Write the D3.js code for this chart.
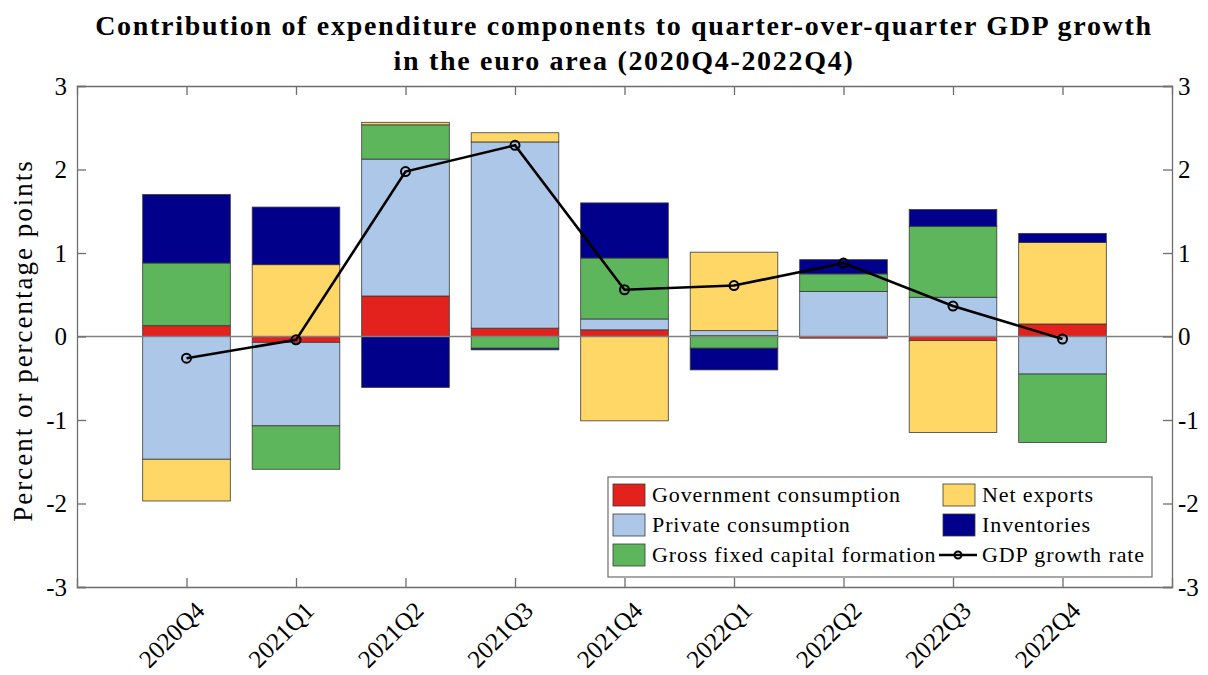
<!DOCTYPE html>
<html>
<head>
<meta charset="utf-8">
<script src="https://cdn.jsdelivr.net/npm/d3@7"></script>
<style>
  body { margin: 0; background: #fff; }
  svg text { font-family: "Liberation Serif", "Times New Roman", serif; fill: #000; }
</style>
</head>
<body>
<div id="chart"></div>
<script>
// quarters on the x axis
const quarters = ["2020Q4", "2021Q1", "2021Q2", "2021Q3", "2021Q4", "2022Q1", "2022Q2", "2022Q3", "2022Q4"];

// contributions in percentage points
const government = [0.13, -0.07, 0.485, 0.10, 0.08, 0.01, -0.02, -0.05, 0.15];
const privateCons = [-1.47, -1.00, 1.64, 2.23, 0.13, 0.06, 0.54, 0.47, -0.45];
const gfcf = [0.75, -0.52, 0.41, -0.14, 0.73, -0.14, 0.21, 0.85, -0.82];
const netExports = [-0.50, 0.86, 0.03, 0.11, -1.01, 0.94, 0.0, -1.10, 0.975];
const inventories = [0.82, 0.69, -0.61, -0.02, 0.66, -0.26, 0.17, 0.20, 0.11];
const gdpGrowth = [-0.26, -0.04, 1.975, 2.29, 0.56, 0.61, 0.88, 0.365, -0.03];

const yTicks = [-3, -2, -1, 0, 1, 2, 3];

const series = [
    { name: "Government consumption", values: government, color: "#e3221e" },
    { name: "Private consumption", values: privateCons, color: "#adc7e8" },
    { name: "Gross fixed capital formation", values: gfcf, color: "#5db65c" },
    { name: "Net exports", values: netExports, color: "#fed766" },
    { name: "Inventories", values: inventories, color: "#00008a" }
];

const W = 1208, H = 675;
const margin = { top: 86, right: 36, bottom: 88, left: 77 };
const width = W - margin.left - margin.right;
const height = H - margin.top - margin.bottom;

const svg = d3.select("#chart").append("svg")
    .attr("width", W)
    .attr("height", H);

// title
const title = svg.append("text")
    .attr("x", 624)
    .attr("text-anchor", "middle")
    .style("font-size", "28px")
    .style("letter-spacing", "1.7px")
    .style("font-weight", "bold");
title.append("tspan").attr("x", 624).attr("y", 35)
    .text("Contribution of expenditure components to quarter-over-quarter GDP growth");
title.append("tspan").attr("x", 624).attr("y", 70)
    .text("in the euro area (2020Q4-2022Q4)");

const g = svg.append("g")
    .attr("transform", `translate(${margin.left},${margin.top})`);

const x = d3.scaleLinear().domain([0, quarters.length + 1]).range([0, width]);
const y = d3.scaleLinear().domain([-3, 3]).range([height, 0]);
const barW = x(0.8) - x(0);

// stack positives and negatives separately, like MATLAB bar(...,'stacked')
const segments = [];
quarters.forEach((q, i) => {
    let pos = 0, neg = 0;
    series.forEach(s => {
        const v = s.values[i];
        if (v >= 0) {
            segments.push({ i, y0: pos, y1: pos + v, color: s.color });
            pos += v;
        } else {
            segments.push({ i, y0: neg + v, y1: neg, color: s.color });
            neg += v;
        }
    });
});

g.selectAll(".bar")
    .data(segments.filter(d => d.y1 - d.y0 > 0))
    .enter().append("rect")
    .attr("class", "bar")
    .attr("x", d => x(d.i + 1) - barW / 2)
    .attr("width", barW)
    .attr("y", d => y(d.y1))
    .attr("height", d => y(d.y0) - y(d.y1))
    .attr("fill", d => d.color)
    .attr("stroke", "#3a3a3a")
    .attr("stroke-width", 0.8);

// zero line
g.append("line")
    .attr("x1", 0).attr("x2", width)
    .attr("y1", y(0)).attr("y2", y(0))
    .attr("stroke", "#808080")
    .attr("stroke-width", 1.3);

// GDP growth line
const line = d3.line()
    .x((d, i) => x(i + 1))
    .y(d => y(d));

g.append("path")
    .datum(gdpGrowth)
    .attr("d", line)
    .attr("fill", "none")
    .attr("stroke", "#000")
    .attr("stroke-width", 2.6);

g.selectAll(".dot")
    .data(gdpGrowth)
    .enter().append("circle")
    .attr("class", "dot")
    .attr("cx", (d, i) => x(i + 1))
    .attr("cy", d => y(d))
    .attr("r", 4.5)
    .attr("fill", "none")
    .attr("stroke", "#000")
    .attr("stroke-width", 2);

// axes with inward ticks on all four sides
const axisColor = "#6e6e6e";
const tickVals = quarters.map((q, i) => i + 1);
const numFmt = d => String(d);

const leftAxis = g.append("g")
    .call(d3.axisLeft(y).tickValues(yTicks).tickSize(-9).tickPadding(10).tickFormat(numFmt));
const rightAxis = g.append("g")
    .attr("transform", `translate(${width},0)`)
    .call(d3.axisRight(y).tickValues(yTicks).tickSize(-9).tickPadding(6).tickFormat(numFmt));
const bottomAxis = g.append("g")
    .attr("transform", `translate(0,${height})`)
    .call(d3.axisBottom(x).tickValues(tickVals).tickSize(-9).tickFormat((d) => quarters[d - 1]));
const topAxis = g.append("g")
    .call(d3.axisTop(x).tickValues(tickVals).tickSize(-9).tickFormat(""));

[leftAxis, rightAxis, bottomAxis, topAxis].forEach(a => {
    a.select(".domain").attr("stroke", axisColor).attr("stroke-width", 1.3);
    a.selectAll(".tick line").attr("stroke", axisColor).attr("stroke-width", 1.3);
    a.selectAll("text").style("font-family", "'Liberation Serif', serif").style("font-size", "25px").attr("fill", "#000");
});

bottomAxis.selectAll("text")
    .attr("transform", "translate(13,19) rotate(-45)")
    .attr("text-anchor", "end")
    .attr("dy", "0.35em")
    .attr("y", 0)
    .style("font-size", "25px");

// y label
svg.append("text")
    .attr("transform", `translate(32,${margin.top + y(0) + 4}) rotate(-90)`)
    .attr("text-anchor", "middle")
    .style("font-size", "27px")
    .style("letter-spacing", "2px")
    .text("Percent or percentage points");

// legend
const legendItems = [
    { name: "Government consumption", color: series[0].color, col: 0, row: 0 },
    { name: "Private consumption", color: series[1].color, col: 0, row: 1 },
    { name: "Gross fixed capital formation", color: series[2].color, col: 0, row: 2 },
    { name: "Net exports", color: series[3].color, col: 1, row: 0 },
    { name: "Inventories", color: series[4].color, col: 1, row: 1 },
    { name: "GDP growth rate", color: null, col: 1, row: 2 }
];

const legend = svg.append("g").attr("transform", "translate(608,477)");
legend.append("rect")
    .attr("width", 544).attr("height", 100)
    .attr("fill", "#fff")
    .attr("stroke", axisColor)
    .attr("stroke-width", 1.2);

const colX = [5, 335];
const rowY = [18, 48, 78];
legendItems.forEach(it => {
    const lx = colX[it.col], ly = rowY[it.row];
    if (it.color) {
        legend.append("rect")
            .attr("x", lx).attr("y", ly - 11)
            .attr("width", 32).attr("height", 22)
            .attr("fill", it.color)
            .attr("stroke", "#3a3a3a").attr("stroke-width", 0.8);
    } else {
        legend.append("line")
            .attr("x1", lx - 4).attr("x2", lx + 34)
            .attr("y1", ly).attr("y2", ly)
            .attr("stroke", "#000").attr("stroke-width", 2.6);
        legend.append("circle")
            .attr("cx", lx + 15).attr("cy", ly).attr("r", 3.5)
            .attr("fill", "none").attr("stroke", "#000").attr("stroke-width", 2);
    }
    legend.append("text")
        .attr("x", lx + 39).attr("y", ly + 7)
        .style("font-size", "22px")
        .style("letter-spacing", "0.9px")
        .text(it.name);
});
</script>
</body>
</html>
